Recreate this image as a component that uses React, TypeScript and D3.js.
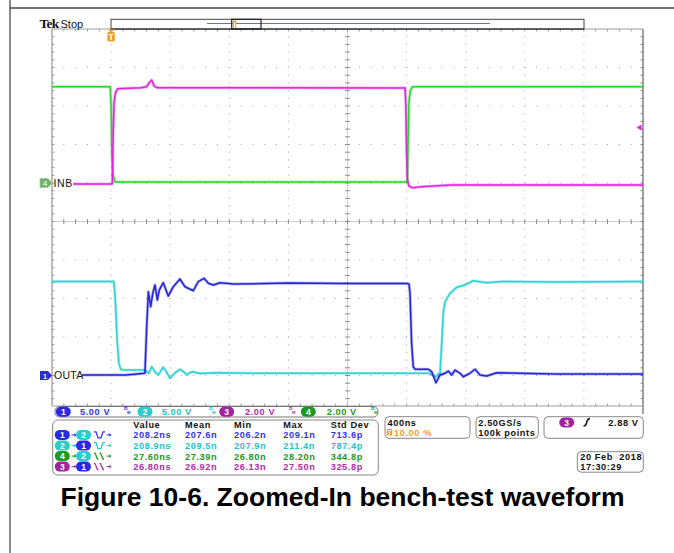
import React from "react";
import * as d3 from "d3";

// ---------------- DATA ----------------
const timeDomainNs: [number, number] = [-400, 3600]; // 400 ns/div, trigger at 10 %
const triggerLevelV = 2.88;

// channel settings
const ch1VoltsPerDiv = 5, ch1GroundDiv = -4;
const ch2VoltsPerDiv = 5, ch2GroundDiv = -4;
const ch3VoltsPerDiv = 2, ch3GroundDiv = 1;
const ch4VoltsPerDiv = 2, ch4GroundDiv = 1;

// CH1 (OUTA, blue)
const ch1Time = [-197, 100, 229, 241, 252, 268, 282, 297, 313, 326, 353, 387, 421, 466, 500, 556, 590, 629, 658, 692, 737, 827, 1200, 1600, 2000, 2016, 2023, 2034, 2045, 2057, 2147, 2170, 2199, 2226, 2260, 2282, 2305, 2328, 2362, 2384, 2429, 2463, 2497, 2542, 2610, 3000, 3600];
const ch1Volt = [0.05, 0.05, 0.29, 6.34, 10.88, 8.94, 10.68, 11.75, 9.81, 11.1, 12.05, 10.32, 11.53, 12.53, 11.53, 11.01, 12.18, 12.62, 11.97, 11.75, 12.05, 11.88, 12.0, 11.95, 11.95, 11.9, 10.68, 4.18, 1.14, 0.81, 0.81, 0.49, -0.94, 0.07, 0.29, 0.58, 0.07, 0.71, 0.29, -0.16, 0.29, 0.81, 0.07, -0.06, 0.36, 0.2, 0.2];

// CH2 (cyan)
const ch2Time = [-400, 18, 24, 32, 42, 53, 65, 90, 230, 255, 275, 300, 319, 336, 353, 376, 399, 430, 466, 490, 512, 535, 556, 600, 700, 1000, 1500, 2000, 2150, 2199, 2215, 2226, 2238, 2248, 2260, 2294, 2339, 2395, 2451, 2542, 2650, 3000, 3600];
const ch2Volt = [12.2, 12.2, 11.0, 8.5, 4.2, 1.6, 0.8, 0.7, 0.7, 0.3, 1.14, 0.4, 0.07, 0.6, 1.07, 0.4, -0.36, 0.3, 0.8, 0.5, 0.07, 0.4, 0.49, 0.25, 0.35, 0.3, 0.3, 0.3, 0.3, -0.16, 0.2, 0.28, 4.22, 8.08, 9.58, 10.67, 11.45, 11.75, 12.31, 12.05, 12.2, 12.15, 12.2];

// CH3 (magenta)
const ch3Time = [-258, 8, 14, 20, 30, 45, 200, 240, 262, 275, 290, 310, 400, 1990, 1995, 2000, 2005, 2015, 2040, 2100, 2300, 3600];
const ch3Volt = [-0.05, -0.05, 2.5, 4.2, 4.7, 4.9, 4.95, 5.0, 5.25, 5.35, 5.05, 4.95, 4.95, 4.93, 4.0, 1.5, 0.2, -0.15, -0.25, -0.2, -0.1, -0.1];

// CH4 (INB, green)
const ch4Time = [-400, -6, 0, 5, 12, 25, 2005, 2010, 2016, 2025, 2040, 3600];
const ch4Volt = [5.0, 5.0, 4.0, 1.5, 0.5, 0.05, 0.05, 2.0, 4.2, 4.8, 5.0, 5.0];

// readout texts
const channelScaleLabels = ["5.00 V", "5.00 V", "2.00 V", "2.00 V"];
const measHeader = ["Value", "Mean", "Min", "Max", "Std Dev"];
const measRow1 = ["208.2ns", "207.6n", "206.2n", "209.1n", "713.6p"];
const measRow2 = ["208.9ns", "209.5n", "207.9n", "211.4n", "787.4p"];
const measRow3 = ["27.60ns", "27.39n", "26.80n", "28.20n", "344.8p"];
const measRow4 = ["26.80ns", "26.92n", "26.13n", "27.50n", "325.8p"];
const measSources = [[1, 2], [2, 1], [4, 2], [3, 1]];
const measEdges = ["fr", "fr", "ff", "ff"];
const timebaseLabel = "400ns";
const triggerPosLabel = "10.00 %";
const sampleRateLabel = "2.50GS/s";
const recordLabel = "100k points";
const triggerLabel = "2.88 V";
const dateLabel = "20 Feb  2018";
const timeLabel = "17:30:29";
const captionText = "Figure 10-6. Zoomed-In bench-test waveform";

// ---------------- STYLE ----------------
const TRACE = { 1: "#2626d8", 2: "#2fd2d2", 3: "#e024e0", 4: "#2ad82a" } as Record<number, string>;
const BADGE = { 1: "#2a2ae6", 2: "#2ccccc", 3: "#a024a0", 4: "#1e9a1e" } as Record<number, string>;
const TEXT = { 1: "#3434f0", 2: "#22c4cc", 3: "#b02cb0", 4: "#229a22" } as Record<number, string>;
const ORANGE = "#f0a020";
const RO_FONT = "'Liberation Sans', Arial, sans-serif";
const RO_SIZE = 9.2;
const RO_LS = 0.6;

const GX0 = 52, GX1 = 643, GY0 = 29, GY1 = 414, GYCLIP = 406;

const x = d3.scaleLinear().domain(timeDomainNs).range([GX0, GX1]);
const yDiv = d3.scaleLinear().domain([5, -5]).range([GY0, GY1]);

function zip(t: number[], v: number[]): [number, number][] {
  return t.map((tt, i) => [tt, v[i]]);
}

function Trace({ t, v, vpd, gnd, color }: { t: number[]; v: number[]; vpd: number; gnd: number; color: string }) {
  const line = d3
    .line<[number, number]>()
    .x((d) => x(d[0]))
    .y((d) => yDiv(d[1] / vpd + gnd));
  const d = line(zip(t, v)) || "";
  return (
    <g>
      <path d={d} fill="none" stroke={color} strokeWidth={3} strokeOpacity={0.35} strokeLinejoin="round" />
      <path d={d} fill="none" stroke={color} strokeWidth={1.5} strokeLinejoin="round" />
    </g>
  );
}

function Badge({ cx, cy, n }: { cx: number; cy: number; n: number }) {
  return (
    <g>
      <rect x={cx - 7.5} y={cy - 5} width={15} height={10} rx={5} fill={BADGE[n]} />
      <text x={cx} y={cy + 3.2} textAnchor="middle" fontFamily={RO_FONT} fontWeight="bold" fontSize={8.5} fill="#fff">
        {n}
      </text>
    </g>
  );
}

function Bw({ x0, y0, color }: { x0: number; y0: number; color: string }) {
  return (
    <g fill={color} fontFamily={RO_FONT} fontWeight="bold">
      <text x={x0} y={y0 - 2} fontSize={5}>B</text>
      <text x={x0 + 3} y={y0 + 1.5} fontSize={4.5}>w</text>
    </g>
  );
}

function RoText({ x0, y0, color, children, anchor }: { x0: number; y0: number; color: string; children: React.ReactNode; anchor?: string }) {
  return (
    <text x={x0} y={y0} textAnchor={anchor || "start"} fontFamily={RO_FONT} fontWeight="bold" fontSize={RO_SIZE} letterSpacing={RO_LS} fill={color} style={{ whiteSpace: "pre" }}>
      {children}
    </text>
  );
}

function Graticule() {
  const dx = (GX1 - GX0) / 10;
  const dy = (GY1 - GY0) / 10;
  const els: React.ReactNode[] = [];
  for (let i = 1; i < 10; i++) {
    if (i === 5) continue;
    const gx = GX0 + i * dx;
    for (let k = 1; k < 50; k++) {
      const gy = GY0 + (k * dy) / 5;
      if (gy > GYCLIP - 1) break;
      els.push(<rect key={`v${i}-${k}`} x={gx - 0.5} y={gy - 0.5} width={1} height={1} fill="#a4a4a4" />);
    }
  }
  for (let j = 1; j < 10; j++) {
    if (j === 5) continue;
    const gy = GY0 + j * dy;
    if (gy > GYCLIP) continue;
    for (let k = 1; k < 50; k++) {
      const gx = GX0 + (k * dx) / 5;
      els.push(<rect key={`h${j}-${k}`} x={gx - 0.5} y={gy - 0.5} width={1} height={1} fill="#a4a4a4" />);
    }
  }
  const cx = GX0 + 5 * dx;
  const cy = GY0 + 5 * dy;
  els.push(<line key="ch" x1={GX0} x2={GX1} y1={cy} y2={cy} stroke="#cfcfcf" strokeWidth={1} />);
  els.push(<line key="cv" x1={cx} x2={cx} y1={GY0} y2={GYCLIP} stroke="#cfcfcf" strokeWidth={1} />);
  for (let k = 1; k < 50; k++) {
    const gx = GX0 + (k * dx) / 5;
    els.push(<line key={`cht${k}`} x1={gx} x2={gx} y1={cy - 2.5} y2={cy + 2.5} stroke="#8c8c8c" strokeWidth={1} />);
    els.push(<line key={`tt${k}`} x1={gx} x2={gx} y1={GY0} y2={GY0 + 2.5} stroke="#9a9a9a" strokeWidth={1} />);
    els.push(<line key={`bt${k}`} x1={gx} x2={gx} y1={GYCLIP - 2.5} y2={GYCLIP} stroke="#9a9a9a" strokeWidth={1} />);
  }
  for (let k = 1; k < 50; k++) {
    const gy = GY0 + (k * dy) / 5;
    if (gy > GYCLIP - 1) break;
    els.push(<line key={`cvt${k}`} x1={cx - 2.5} x2={cx + 2.5} y1={gy} y2={gy} stroke="#8c8c8c" strokeWidth={1} />);
    els.push(<line key={`lt${k}`} x1={GX0} x2={GX0 + 2.5} y1={gy} y2={gy} stroke="#9a9a9a" strokeWidth={1} />);
    els.push(<line key={`rt${k}`} x1={GX1 - 2.5} x2={GX1} y1={gy} y2={gy} stroke="#8a8a8a" strokeWidth={1} />);
  }
  els.push(<line key="bl" x1={GX0} x2={GX0} y1={GY0} y2={GYCLIP} stroke="#9c9c9c" strokeWidth={1.3} />);
  els.push(<line key="br" x1={GX1} x2={GX1} y1={GY0} y2={GY1} stroke="#6e6e6e" strokeWidth={1.3} />);
  els.push(<line key="bt" x1={GX0} x2={GX1} y1={GY0} y2={GY0} stroke="#a0a0a0" strokeWidth={1.2} />);
  els.push(<line key="bb" x1={GX0} x2={GX1} y1={GYCLIP} y2={GYCLIP} stroke="#a0a0a0" strokeWidth={1} />);
  return <g>{els}</g>;
}

function EdgeIcon({ x0, y0, kind, color }: { x0: number; y0: number; kind: string; color: string }) {
  const d =
    kind === "fr"
      ? `M${x0},${y0 - 3} L${x0 + 2},${y0 - 3} L${x0 + 4},${y0 + 3} L${x0 + 7},${y0 + 3} L${x0 + 9},${y0 - 3} L${x0 + 11},${y0 - 3}`
      : `M${x0},${y0 - 3} L${x0 + 1},${y0 - 3} L${x0 + 3.5},${y0 + 3} L${x0 + 4.5},${y0 + 3} M${x0 + 5.5},${y0 - 3} L${x0 + 6.5},${y0 - 3} L${x0 + 9},${y0 + 3} L${x0 + 10},${y0 + 3}`;
  return <path d={d} fill="none" stroke={color} strokeWidth={1.3} />;
}

function Arrow({ x0, y0, color }: { x0: number; y0: number; color: string }) {
  return (
    <g>
      <line x1={x0} x2={x0 + 4} y1={y0} y2={y0} stroke={color} strokeWidth={1} />
      <path d={`M${x0 + 5},${y0} L${x0 + 2.8},${y0 - 1.8} L${x0 + 2.8},${y0 + 1.8} Z`} fill={color} />
    </g>
  );
}

export default function App() {
  const rows = [measRow1, measRow2, measRow3, measRow4];
  const colX = [133.3, 185, 234, 283.3, 330.7];
  const rowY = [438.3, 449, 459.5, 470];
  const trigY = yDiv(triggerLevelV / ch3VoltsPerDiv + ch3GroundDiv);
  const trigX = x(0);
  const ch4MarkY = yDiv(ch4GroundDiv);
  const ch1MarkY = yDiv(ch1GroundDiv);

  return (
    <svg width={674} height={553} style={{ position: "absolute", left: 0, top: 0, background: "#fff" }}>
      <rect width={674} height={553} fill="#fff" />
      <line x1={10} x2={10} y1={0} y2={553} stroke="#8a8a8a" strokeWidth={2} />
      <line x1={10} x2={674} y1={8} y2={8} stroke="#444" strokeWidth={1.6} />

      <Graticule />

      {/* record bar */}
      <rect x={111} y={19.3} width={473} height={9.7} fill="#fff" stroke="#444" strokeWidth={1} />
      <line x1={207} x2={490} y1={23.5} y2={23.5} stroke="#6a6ae0" strokeWidth={1} />
      <rect x={231.7} y={19.3} width={29.3} height={9.7} fill="none" stroke="#222" strokeWidth={1.2} />
      <line x1={111} x2={584} y1={29} y2={29} stroke="#222" strokeWidth={1.2} />
      <rect x={232.8} y={20.5} width={3.5} height={7.5} fill={ORANGE} />
      <rect x={233.9} y={22.5} width={1.3} height={5.5} fill="#fff" />

      {/* Tek Stop */}
      <text x={39.5} y={27.5} fontFamily="'Liberation Serif', 'Times New Roman', serif" fontWeight="bold" fontSize={13.5} fill="#111" letterSpacing={-0.7}>Tek</text>
      <text x={60.5} y={27.5} fontFamily={RO_FONT} fontSize={11} fill="#111">Stop</text>

      {/* trigger position marker */}
      <path d={`M${trigX - 3.5},${29.5} L${trigX + 3.5},${29.5} L${trigX},${32.5} Z`} fill={ORANGE} />
      <rect x={trigX - 3.7} y={32} width={7.4} height={9.6} rx={1.5} fill={ORANGE} />
      <text x={trigX} y={40.3} textAnchor="middle" fontFamily={RO_FONT} fontWeight="bold" fontSize={8.5} fill="#fff">T</text>

      <defs>
        <clipPath id="gclip">
          <rect x={GX0} y={GY0} width={GX1 - GX0} height={GYCLIP - GY0} />
        </clipPath>
      </defs>
      <g clipPath="url(#gclip)">
        <Trace t={ch4Time} v={ch4Volt} vpd={ch4VoltsPerDiv} gnd={ch4GroundDiv} color={TRACE[4]} />
        <Trace t={ch3Time} v={ch3Volt} vpd={ch3VoltsPerDiv} gnd={ch3GroundDiv} color={TRACE[3]} />
        <Trace t={ch2Time} v={ch2Volt} vpd={ch2VoltsPerDiv} gnd={ch2GroundDiv} color={TRACE[2]} />
        <Trace t={ch1Time} v={ch1Volt} vpd={ch1VoltsPerDiv} gnd={ch1GroundDiv} color={TRACE[1]} />
      </g>

      {/* trigger level arrow */}
      <path d={`M${636.5},${trigY} L${641.5},${trigY - 3} L${641.5},${trigY + 3} Z`} fill={TRACE[3]} />

      {/* channel markers */}
      <path d={`M40,${ch4MarkY - 4.5} L48,${ch4MarkY - 4.5} L52,${ch4MarkY} L48,${ch4MarkY + 4.5} L40,${ch4MarkY + 4.5} Z`} fill="#6fae6f" stroke="#8fd08f" strokeWidth={0.8} />
      <text x={45} y={ch4MarkY + 3} textAnchor="middle" fontFamily={RO_FONT} fontWeight="bold" fontSize={8} fill="#d8f0d8">4</text>
      <text x={53.5} y={ch4MarkY + 3.8} fontFamily={RO_FONT} fontSize={10.5} fill="#111" letterSpacing={0.6}>INB</text>
      <path d={`M40,${ch1MarkY - 4.5} L48,${ch1MarkY - 4.5} L52,${ch1MarkY} L48,${ch1MarkY + 4.5} L40,${ch1MarkY + 4.5} Z`} fill="#2a2ae0" />
      <text x={45} y={ch1MarkY + 3} textAnchor="middle" fontFamily={RO_FONT} fontWeight="bold" fontSize={8} fill="#e8e0a0">1</text>
      <text x={54} y={ch1MarkY + 3.8} fontFamily={RO_FONT} fontSize={10.5} fill="#111" letterSpacing={0.3}>OUTA</text>

      {/* channel readout bar */}
      <rect x={55} y={406.5} width={323} height={10.5} rx={4.5} fill="#fff" stroke="#777" strokeWidth={1} />
      {[1, 2, 3, 4].map((n, i) => {
        const bx = [63.3, 145, 226.7, 308.3][i];
        const tx = [80, 161.7, 245, 326.7][i];
        const bwx = [124, 209, 289, 371][i];
        return (
          <g key={n}>
            <Badge cx={bx} cy={411.7} n={n} />
            <RoText x0={tx} y0={415.2} color={TEXT[n]}>{channelScaleLabels[i]}</RoText>
            <Bw x0={bwx} y0={412} color={TEXT[n]} />
          </g>
        );
      })}

      {/* measurement table */}
      <rect x={52.7} y={420} width={325.6} height={55} rx={5} fill="#fff" stroke="#888" strokeWidth={1} />
      {measHeader.map((h, i) => (
        <RoText key={h} x0={colX[i]} y0={428.3} color="#111">{h}</RoText>
      ))}
      {rows.map((r, ri) => {
        const [a, b] = measSources[ri];
        const cy = rowY[ri] - 3.4;
        const col = TEXT[a];
        return (
          <g key={ri}>
            <Badge cx={62.3} cy={cy} n={a} />
            <Arrow x0={71.5} y0={cy} color={col} />
            <Badge cx={83.5} cy={cy} n={b} />
            <EdgeIcon x0={94} y0={cy} kind={measEdges[ri]} color={col} />
            <Arrow x0={106.5} y0={cy} color={col} />
            {r.map((v, ci) => (
              <RoText key={ci} x0={colX[ci]} y0={rowY[ri]} color={col}>{v}</RoText>
            ))}
          </g>
        );
      })}

      {/* timebase box */}
      <rect x={385} y={416.7} width={85} height={21.6} rx={4} fill="#fff" stroke="#888" strokeWidth={1} />
      <RoText x0={387.5} y0={426} color="#111">{timebaseLabel}</RoText>
      <rect x={386.7} y={429} width={5.5} height={6.5} fill={ORANGE} />
      <text x={389.45} y={434.7} textAnchor="middle" fontFamily={RO_FONT} fontWeight="bold" fontSize={6.5} fill="#fff">T</text>
      <RoText x0={394} y0={435.6} color={ORANGE}>{triggerPosLabel}</RoText>

      {/* sample box */}
      <rect x={476} y={416.7} width={62.3} height={21.6} rx={4} fill="#fff" stroke="#888" strokeWidth={1} />
      <RoText x0={478.3} y0={426} color="#111">{sampleRateLabel}</RoText>
      <RoText x0={478.3} y0={435.8} color="#111">{recordLabel}</RoText>

      {/* trigger box */}
      <rect x={544} y={416.7} width={99.3} height={21.6} rx={4} fill="#fff" stroke="#888" strokeWidth={1} />
      <Badge cx={566.7} cy={422.5} n={3} />
      <path d="M583.5,426 Q586,426 586.8,422 Q587.6,418.5 590,418.5" fill="none" stroke="#111" strokeWidth={1.5} />
      <RoText x0={638.5} y0={426} color="#111" anchor="end">{triggerLabel}</RoText>

      {/* date box */}
      <rect x={577.3} y={451.7} width={66} height={20.5} rx={4} fill="#fff" stroke="#888" strokeWidth={1} />
      <RoText x0={580.3} y0={460.3} color="#111">{dateLabel}</RoText>
      <RoText x0={580.3} y0={470} color="#111">{timeLabel}</RoText>

      {/* caption */}
      <text x={60.5} y={506} fontFamily="'Liberation Sans', Arial, sans-serif" fontWeight="bold" fontSize={26.5} fill="#000">{captionText}</text>
    </svg>
  );
}
